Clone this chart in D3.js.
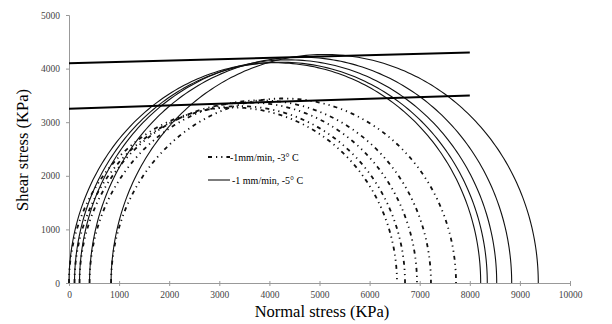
<!DOCTYPE html>
<html>
<head>
<meta charset="utf-8">
<script src="https://cdn.jsdelivr.net/npm/d3@7"></script>
<style>
	body { margin: 0; background: #fff; }
	svg { display: block; }
	svg text { font-family: "Liberation Serif", "Times New Roman", serif; }
	.tick text { font-size: 9.5px; fill: #444; }
	.domain, .tick line { stroke: #999; }
</style>
</head>
<body>
<div id="wrapper"></div>
<script>
// Mohr circles: minor / major principal stress (KPa)
const xTicks = [0, 1000, 2000, 3000, 4000, 5000, 6000, 7000, 8000, 9000, 10000];
const yTicks = [0, 1000, 2000, 3000, 4000, 5000];

// -1 mm/min, -5 C (solid)
const solidSigma3 = [0, 110, 210, 410, 840];
const solidSigma1 = [8217, 8349, 8537, 8836, 9367];

// -1mm/min, -3 C (dash-dot)
const dashSigma3 = [0, 110, 210, 410, 840];
const dashSigma1 = [6547, 6707, 6946, 7225, 7725];

// failure envelopes [x, y]
const envelopeHigh = [[0, 4100], [8000, 4300]];
const envelopeLow = [[0, 3250], [8000, 3500]];

const legendLabels = ['-1mm/min, -3\u00b0 C', '-1 mm/min, -5\u00b0 C'];

const dimensions = {
	width: 612,
	height: 324,
	margin: { top: 15, right: 42, bottom: 41, left: 69 }
};
dimensions.boundedWidth = dimensions.width - dimensions.margin.left - dimensions.margin.right;
dimensions.boundedHeight = dimensions.height - dimensions.margin.top - dimensions.margin.bottom;

const x = d3.scaleLinear().domain([0, 10000]).range([0, dimensions.boundedWidth]);
const y = d3.scaleLinear().domain([0, 5000]).range([dimensions.boundedHeight, 0]);

const svg = d3.select('#wrapper').append('svg')
	.attr('width', dimensions.width)
	.attr('height', dimensions.height);

const bounds = svg.append('g')
	.attr('transform', `translate(${dimensions.margin.left}, ${dimensions.margin.top})`);

const xAxis = bounds.append('g')
	.attr('transform', `translate(0, ${dimensions.boundedHeight})`)
	.call(d3.axisBottom(x).tickValues(xTicks).tickFormat(d3.format('d')).tickSize(3).tickPadding(5));
const yAxis = bounds.append('g')
	.call(d3.axisLeft(y).tickValues(yTicks).tickFormat(d3.format('d')).tickSize(3).tickPadding(6));
xAxis.selectAll('.tick line').attr('y1', -2);
xAxis.attr('font-family', null);
yAxis.attr('font-family', null);

svg.append('text')
	.attr('x', 322)
	.attr('y', 317)
	.attr('text-anchor', 'middle')
	.style('font-size', '16.5px')
	.text('Normal stress (KPa)');

svg.append('text')
	.attr('transform', 'translate(28, 150) rotate(-90)')
	.attr('text-anchor', 'middle')
	.style('font-size', '16.5px')
	.text('Shear stress (KPa)');

// half circle through angle steps
const angles = d3.range(0, 181, 1).map((a) => a * Math.PI / 180);
const circlePath = (s3, s1) => {
	const c = (s1 + s3) / 2;
	const r = (s1 - s3) / 2;
	return d3.line()
		.x((a) => x(c - r * Math.cos(a)))
		.y((a) => y(r * Math.sin(a)))(angles);
};

const dashPattern = '4,4,1.2,4,1.2,4';

bounds.selectAll('.dash-circle')
	.data(dashSigma3.map((s3, i) => ({ s3: s3, s1: dashSigma1[i] })))
	.join('path')
	.attr('class', 'dash-circle')
	.attr('d', (d) => circlePath(d.s3, d.s1))
	.attr('fill', 'none')
	.attr('stroke', '#111')
	.attr('stroke-width', 1.8)
	.attr('stroke-dasharray', dashPattern);

bounds.selectAll('.solid-circle')
	.data(solidSigma3.map((s3, i) => ({ s3: s3, s1: solidSigma1[i] })))
	.join('path')
	.attr('class', 'solid-circle')
	.attr('d', (d) => circlePath(d.s3, d.s1))
	.attr('fill', 'none')
	.attr('stroke', '#111')
	.attr('stroke-width', 1.1);

bounds.selectAll('.envelope')
	.data([envelopeHigh, envelopeLow])
	.join('path')
	.attr('class', 'envelope')
	.attr('d', d3.line().x((d) => x(d[0])).y((d) => y(d[1])))
	.attr('fill', 'none')
	.attr('stroke', '#000')
	.attr('stroke-width', 2);

// legend
const legend = svg.append('g').attr('transform', 'translate(208, 157)');
legend.append('rect').attr('x', -4).attr('y', -8).attr('width', 130).attr('height', 34).attr('fill', '#fff');
legendLabels.forEach((label, i) => {
	const row = legend.append('g').attr('transform', `translate(0, ${i * 23})`);
	row.append('line')
		.attr('x1', 0).attr('x2', 22).attr('y1', 0).attr('y2', 0)
		.attr('stroke', '#111')
		.attr('stroke-width', i === 0 ? 1.8 : 1.1)
		.attr('stroke-dasharray', i === 0 ? dashPattern : null);
	row.append('text')
		.attr('x', i === 0 ? 22 : 24)
		.attr('y', 3.5)
		.style('font-size', '10px')
		.text(label);
});
</script>
</body>
</html>
